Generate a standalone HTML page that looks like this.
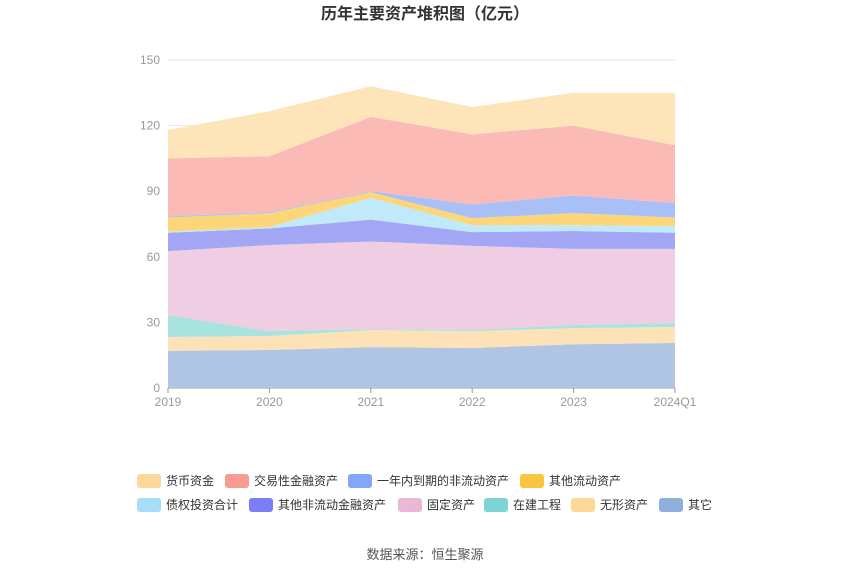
<!DOCTYPE html>
<html><head><meta charset="utf-8"><style>
body{margin:0;background:#fff;font-family:"Liberation Sans","Noto Sans CJK SC",sans-serif;}
</style></head><body>
<svg id="s" width="850" height="575" xmlns="http://www.w3.org/2000/svg" style="display:block">
<rect width="850" height="575" fill="#fff"/>
<text x="425" y="19" text-anchor="middle" font-size="16" font-weight="bold" fill="#333" font-family="Liberation Sans,Noto Sans CJK SC,sans-serif">历年主要资产堆积图（亿元）</text>
<g id="grid"></g>
<g id="areas"></g>
<g id="axis"></g>
<g id="legend" font-size="12" fill="#333" font-family="Liberation Sans,Noto Sans CJK SC,sans-serif"></g>
<text x="425" y="559" text-anchor="middle" font-size="13" fill="#555" font-family="Liberation Sans,Noto Sans CJK SC,sans-serif">数据来源：恒生聚源</text>
</svg>
<script>
var NS="http://www.w3.org/2000/svg";
function el(t,a,p,txt){var e=document.createElementNS(NS,t);for(var k in a)e.setAttribute(k,a[k]);if(txt)e.textContent=txt;document.getElementById(p).appendChild(e);return e;}
var X0=168,X1=675,Y0=388,Y150=60;
function y(v){return Y0-(v/150)*(Y0-Y150);}
var xs=[];for(var i=0;i<6;i++)xs.push(X0+(X1-X0)*i/5);
for(var v=0;v<=150;v+=30){el("line",{x1:X0,x2:X1,y1:y(v),y2:y(v),stroke:v==0?"#999":"#e6e6e6","stroke-width":1},"grid");
el("text",{x:160,y:y(v)+4,"text-anchor":"end","font-size":12,fill:"#999"},"axis",""+v);}
var labs=["2019","2020","2021","2022","2023","2024Q1"];
labs.forEach(function(l,i){el("line",{x1:xs[i],x2:xs[i],y1:Y0,y2:Y0+5,stroke:"#999"},"axis");
el("text",{x:xs[i],y:Y0+18,"text-anchor":"middle","font-size":12,fill:"#999"},"axis",l);});
var tops=[
[17,17.4,18.7,18.3,20,20.6],
[23.3,23.8,26.5,26,27.4,27.9],
[33.4,26,27,26.5,28.8,29.7],
[62.6,65.4,67,65,63.6,63.6],
[71,73,77,71.3,71.8,71],
[71.5,73.6,87,74.5,74.5,74],
[78,80,89.6,77.7,80,78],
[78.5,80.5,90,84,88,84.6],
[105,106,124,116,120,111],
[118,126.6,138,128.5,135,135]];
var fills=["#b0c4e4","#fde2b8","#a9e3e0","#efcde2","#a3a6f5","#c0e9fa","#fdd67a","#a9bff7","#fbbab6","#fde5b9"];
for(var k=0;k<tops.length;k++){
 var pts=[];for(var i=0;i<6;i++)pts.push(xs[i]+","+y(tops[k][i]));
 for(var i=5;i>=0;i--)pts.push(xs[i]+","+y(k?tops[k-1][i]:0));
 el("polygon",{points:pts.join(" "),fill:fills[k]},"areas");}
var leg=[["货币资金",137,481,"#fdd89a"],["交易性金融资产",225,481,"#f89c93"],["一年内到期的非流动资产",348,481,"#84a6f7"],["其他流动资产",520,481,"#fbc541"],
["债权投资合计",137,505,"#a6def7"],["其他非流动金融资产",249,505,"#7b7ef4"],["固定资产",398,505,"#e9b8d6"],["在建工程",484,505,"#7ed3d4"],["无形资产",571,505,"#fdd898"],["其它",659,505,"#8eb0dc"]];
leg.forEach(function(l){el("rect",{x:l[1],y:l[2]-7,width:24,height:14,rx:3,fill:l[3]},"legend");
el("text",{x:l[1]+29,y:l[2]+4},"legend",l[0]);});
</script>
</body></html>
